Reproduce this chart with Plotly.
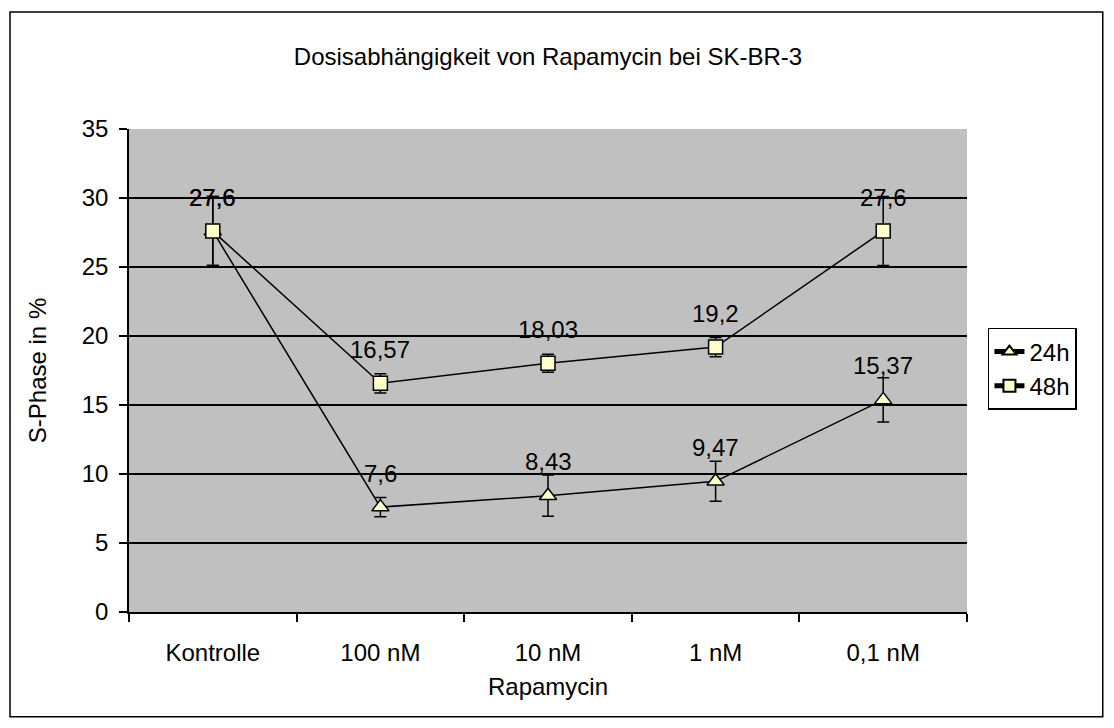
import plotly.graph_objects as go

# S-phase fraction (%) after Rapamycin treatment of SK-BR-3 cells
categories = ["Kontrolle", "100 nM", "10 nM", "1 nM", "0,1 nM"]
s_phase_24h = [27.6, 7.6, 8.43, 9.47, 15.37]
s_phase_48h = [27.6, 16.57, 18.03, 19.2, 27.6]
err_24h = [2.5, 0.7, 1.5, 1.45, 1.6]
err_48h = [2.5, 0.7, 0.65, 0.7, 2.5]
label_24h = ["27,6", "7,6", "8,43", "9,47", "15,37"]
label_48h = ["27,6", "16,57", "18,03", "19,2", "27,6"]

FONT = "Liberation Sans, Arial, sans-serif"
MARKER_FILL = "#FFFFCC"
FS = 24

fig = go.Figure()

fig.add_trace(go.Scatter(
    x=categories, y=s_phase_24h, name="24h",
    mode="lines+markers",
    line=dict(color="black", width=1.5),
    marker=dict(symbol="triangle-up", size=15, color=MARKER_FILL,
                line=dict(color="black", width=1.5)),
    error_y=dict(type="data", array=err_24h, visible=True,
                 color="black", thickness=1.5, width=6),
))
fig.add_trace(go.Scatter(
    x=categories, y=s_phase_48h, name="48h",
    mode="lines+markers",
    line=dict(color="black", width=1.5),
    marker=dict(symbol="square", size=14, color=MARKER_FILL,
                line=dict(color="black", width=1.5)),
    error_y=dict(type="data", array=err_48h, visible=True,
                 color="black", thickness=1.5, width=6),
))

# value labels above each point
for vals, labels in ((s_phase_24h, label_24h), (s_phase_48h, label_48h)):
    for cat, v, lab in zip(categories, vals, labels):
        fig.add_annotation(x=cat, y=v, text=lab, showarrow=False,
                           yshift=34, font=dict(family=FONT, size=FS, color="black"))

# outer chart frame
fig.add_shape(type="rect", xref="paper", yref="paper",
              x0=-0.142, x1=1.162, y0=-0.217, y1=1.242,
              line=dict(color="black", width=1.5), fillcolor="rgba(0,0,0,0)")

fig.update_layout(
    width=1114, height=728,
    margin=dict(l=129, r=147, t=129, b=116),
    paper_bgcolor="white",
    plot_bgcolor="#C0C0C0",
    font=dict(family=FONT, size=FS, color="black"),
    title=dict(text="Dosisabhängigkeit von Rapamycin bei SK-BR-3",
               x=548 / 1114, xanchor="center", y=1 - 57 / 728, yanchor="middle",
               font=dict(family=FONT, size=FS)),
    showlegend=True,
    legend=dict(x=1.025, y=0.588, xanchor="left", yanchor="top",
                bgcolor="white", bordercolor="black", borderwidth=1.5,
                font=dict(family=FONT, size=FS), tracegroupgap=0,
                itemsizing="constant", entrywidth=68, entrywidthmode="pixels"),
    xaxis=dict(
        type="category", tickson="boundaries", ticks="outside", ticklen=8,
        tickcolor="black", tickwidth=1.5, showline=True, linecolor="black",
        linewidth=1.5, showgrid=False, zeroline=False,
        range=[-0.5, 4.5], ticklabelstandoff=18,
        tickfont=dict(family=FONT, size=FS),
        title=dict(text="Rapamycin", font=dict(family=FONT, size=FS), standoff=14),
    ),
    yaxis=dict(
        range=[0, 35], dtick=5, ticks="outside", ticklen=8,
        tickcolor="black", tickwidth=1.5, showline=True, linecolor="black",
        linewidth=1.5, showgrid=True, gridcolor="black", gridwidth=1.5,
        zeroline=False, ticklabelstandoff=6,
        tickfont=dict(family=FONT, size=FS),
        title=dict(text="S-Phase in %", font=dict(family=FONT, size=FS), standoff=28),
    ),
)

fig.write_html("out.html")
